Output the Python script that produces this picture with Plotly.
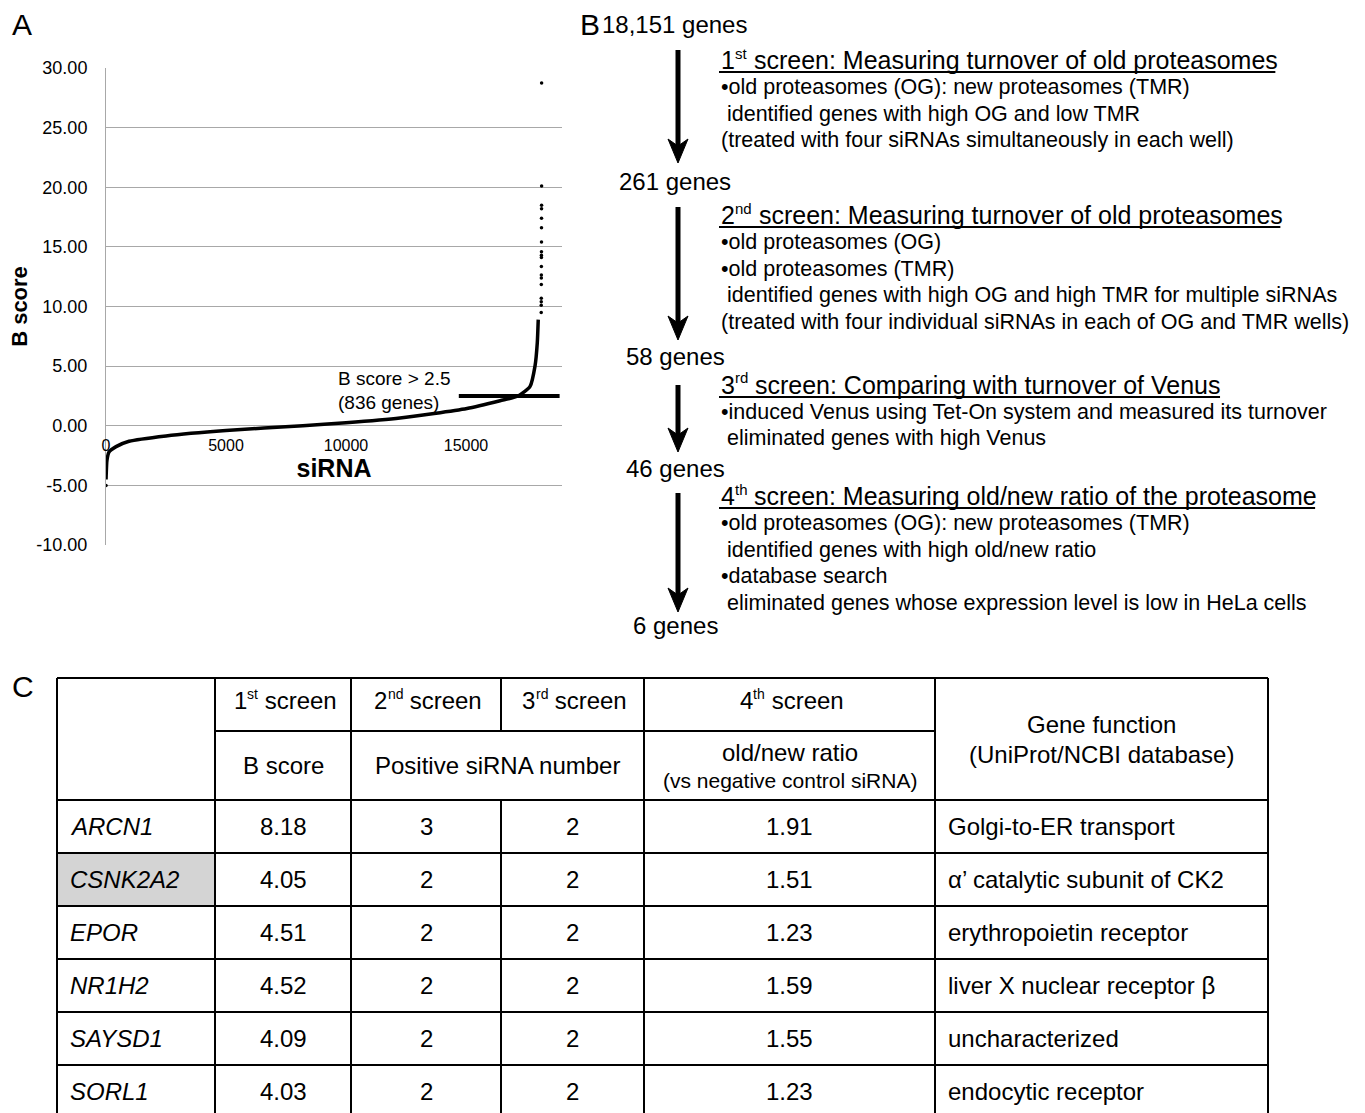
import plotly.graph_objects as go

W, H = 1365, 1113
FONT = "Liberation Sans, Arial, Helvetica, sans-serif"

# ---------------- Panel A data ----------------
curve_rank = [2, 5, 40, 125, 420, 960, 2500, 5000, 8200, 10000, 12250, 15040,
              16420, 17170, 17670, 17875, 17970, 18010]
curve_bscore = [-4.5, -4.3, -2.9, -2.2, -1.75, -1.3, -0.85, -0.4, 0.0, 0.25, 0.65, 1.45,
                2.1, 2.5, 3.3, 5.0, 6.95, 8.9]
outlier_rank = [1, 18134, 18135, 18136, 18137, 18138, 18139, 18140, 18141, 18142, 18143,
                18144, 18145, 18146, 18147, 18148, 18149, 18150, 18151]
outlier_bscore = [-5.0, 9.5, 10.1, 10.4, 10.7, 11.85, 12.4, 12.65, 13.35, 14.1, 14.3,
                  14.6, 15.4, 16.6, 17.4, 18.2, 18.5, 20.1, 28.75]
threshold = 2.5
threshold_span = [14700, 18900]
x_ticks = [0, 5000, 10000, 15000]
y_ticks = [-10, -5, 0, 5, 10, 15, 20, 25, 30]
threshold_label = ["B score > 2.5", "(836 genes)"]

# ---------------- Panel B data ----------------
gene_counts = ["18,151 genes", "261 genes", "58 genes", "46 genes", "6 genes"]
screen_num = ["1", "2", "3", "4"]
screen_sup = ["st", "nd", "rd", "th"]
screen_titles = [
    " screen: Measuring turnover of old proteasomes",
    " screen: Measuring turnover of old proteasomes",
    " screen: Comparing with turnover of Venus",
    " screen: Measuring old/new ratio of the proteasome",
]
screen_lines = [
    ["•old proteasomes (OG): new proteasomes (TMR)",
     " identified genes with high OG and low TMR",
     "(treated with four siRNAs simultaneously in each well)"],
    ["•old proteasomes (OG)",
     "•old proteasomes (TMR)",
     " identified genes with high OG and high TMR for multiple siRNAs",
     "(treated with four individual siRNAs in each of OG and TMR wells)"],
    ["•induced Venus using Tet-On system and measured its turnover",
     " eliminated genes with high Venus"],
    ["•old proteasomes (OG): new proteasomes (TMR)",
     " identified genes with high old/new ratio",
     "•database search",
     " eliminated genes whose expression level is low in HeLa cells"],
]

# ---------------- Panel C data ----------------
genes = ["ARCN1", "CSNK2A2", "EPOR", "NR1H2", "SAYSD1", "SORL1"]
b_scores = ["8.18", "4.05", "4.51", "4.52", "4.09", "4.03"]
pos_sirna_2nd = [3, 2, 2, 2, 2, 2]
pos_sirna_3rd = [2, 2, 2, 2, 2, 2]
old_new_ratio = ["1.91", "1.51", "1.23", "1.59", "1.55", "1.23"]
gene_function = ["Golgi-to-ER transport", "α’ catalytic subunit of CK2",
                 "erythropoietin receptor", "liver X nuclear receptor β",
                 "uncharacterized", "endocytic receptor"]
highlight_gene = "CSNK2A2"

# Arial / Liberation Sans advance widths (1/1000 em) for placing superscripts
_AW = {" ": 278, ":": 278, "/": 278, "a": 556, "b": 556, "c": 500, "d": 556, "e": 556,
       "f": 278, "g": 556, "h": 556, "i": 222, "l": 222, "m": 833, "n": 556, "o": 556,
       "p": 556, "r": 333, "s": 500, "t": 278, "u": 556, "v": 500, "w": 722, "C": 722,
       "M": 833, "V": 667}


def tw(text, size):
    return sum(_AW.get(c, 556) for c in text) * size / 1000.0


def px(x):
    return x / W


def py(y):
    return 1 - y / H


fig = go.Figure()

# ---------------- Panel A ----------------
fig.add_trace(go.Scatter(x=curve_rank, y=curve_bscore, mode="lines",
                         line=dict(color="black", width=3.5, shape="spline", smoothing=0.6),
                         hoverinfo="skip"))
fig.add_trace(go.Scatter(x=outlier_rank, y=outlier_bscore, mode="markers",
                         marker=dict(color="black", size=3.5), hoverinfo="skip"))
fig.add_trace(go.Scatter(x=threshold_span, y=[threshold, threshold], mode="lines",
                         line=dict(color="black", width=4), hoverinfo="skip"))

ya0, ya1 = py(545), py(68)
fig.update_layout(
    xaxis=dict(domain=[px(106), px(562)], range=[0, 19000], anchor="free",
               position=ya0 + (0 - (-10)) / 40 * (ya1 - ya0),
               tickvals=x_ticks, ticktext=[str(v) for v in x_ticks],
               showgrid=False, zeroline=False, showline=False, ticks="",
               ticklabelstandoff=8,
               tickfont=dict(family=FONT, size=16, color="black"),
               title=dict(text="<b>siRNA</b>", font=dict(family=FONT, size=25, color="black"),
                          standoff=0),
               automargin=False),
    yaxis=dict(domain=[ya0, ya1], range=[-10, 30], tickvals=y_ticks,
               ticktext=[f"{v:.2f}" for v in y_ticks],
               showgrid=True, gridcolor="#a8a8a8", gridwidth=1,
               zeroline=False, showline=True, linecolor="#a8a8a8", linewidth=1,
               ticks="", ticklabelstandoff=14,
               tickfont=dict(family=FONT, size=18, color="black"),
               title=dict(text="<b>B score</b>", font=dict(family=FONT, size=22, color="black"),
                          standoff=2),
               automargin=False),
)

ann = []
shapes = []


def text(x, y, t, size, anchor="left", **kw):
    ann.append(dict(x=px(x), y=py(y), xref="paper", yref="paper", text=t, showarrow=False,
                    xanchor=anchor, yanchor="middle",
                    font=dict(family=FONT, size=size, color="black"), **kw))


for i, t in enumerate(threshold_label):
    ann.append(dict(x=9600, y=[3.94, 1.93][i], xref="x", yref="y", text=t,
                    showarrow=False, xanchor="left", yanchor="middle",
                    font=dict(family=FONT, size=19, color="black")))

# panel letters
for letter, (lx, ly) in zip(["A", "B", "C"], [(10, 24), (578, 25), (10, 686)]):
    text(lx, ly, letter, 30)

# ---------------- Panel B ----------------
count_pos = [(600, 25), (617, 181), (624, 357), (624, 468), (631, 625)]
for t, (cx, cy) in zip(gene_counts, count_pos):
    text(cx, cy, t, 24)

TS, SS = 25, 15
title_y = [60, 215, 385, 496]
for num, sup, t, ty, lines in zip(screen_num, screen_sup, screen_titles, title_y, screen_lines):
    x0 = 719
    text(x0, ty, num, TS)
    xs = x0 + tw(num, TS)
    text(xs, ty - 7, sup, SS)
    xr = xs + tw(sup, SS)
    text(xr, ty, t, TS)
    ue = xr + tw(t, TS)
    shapes.append(dict(type="line", xref="paper", yref="paper", x0=px(x0), x1=px(ue),
                       y0=py(ty + 12), y1=py(ty + 12), line=dict(color="black", width=2)))
    for k, line in enumerate(lines):
        text(719, ty + 27 + 26.5 * k, line, 21.5)

# flow arrows (shaft + barbed head)
arrows = [(50, 163), (207, 340), (385, 452), (493, 612)]
ax_ = 678
for tail, head in arrows:
    shapes.append(dict(type="line", xref="paper", yref="paper", x0=px(ax_), x1=px(ax_),
                       y0=py(tail), y1=py(head - 12), line=dict(color="black", width=5)))
    path = (f"M {px(ax_ - 10)} {py(head - 24)} L {px(ax_)} {py(head)} "
            f"L {px(ax_ + 10)} {py(head - 24)} L {px(ax_)} {py(head - 17)} Z")
    shapes.append(dict(type="path", xref="paper", yref="paper", path=path,
                       fillcolor="black", line=dict(color="black", width=1)))

# ---------------- Panel C (table) ----------------
col_x = [57, 215, 351, 501, 644, 935, 1268]
row_y = [678, 731, 800, 853, 906, 959, 1012, 1065, 1118]
lw = 2


def hline(y, x0, x1):
    shapes.append(dict(type="line", xref="paper", yref="paper", x0=px(x0), x1=px(x1),
                       y0=py(y), y1=py(y), line=dict(color="black", width=lw)))


def vline(x, y0, y1):
    shapes.append(dict(type="line", xref="paper", yref="paper", x0=px(x), x1=px(x),
                       y0=py(y0), y1=py(y1), line=dict(color="black", width=lw)))


hi = genes.index(highlight_gene)
shapes.append(dict(type="rect", xref="paper", yref="paper", x0=px(col_x[0]), x1=px(col_x[1]),
                   y0=py(row_y[2 + hi]), y1=py(row_y[3 + hi]),
                   fillcolor="#d4d4d4", line=dict(width=0), layer="below"))

hline(row_y[0], col_x[0], col_x[-1])
hline(row_y[1], col_x[1], col_x[5])
for y in row_y[2:]:
    hline(y, col_x[0], col_x[-1])
for x in [col_x[0], col_x[1], col_x[2], col_x[4], col_x[5], col_x[6]]:
    vline(x, row_y[0], row_y[-1])
vline(col_x[3], row_y[0], row_y[1])
vline(col_x[3], row_y[2], row_y[-1])

TF, TSUP = 24, 14
for k in range(4):
    cx = (col_x[1 + k] + col_x[2 + k]) / 2
    total = tw(screen_num[k], TF) + tw(screen_sup[k], TSUP) + tw(" screen", TF)
    x0 = cx - total / 2
    text(x0, 700, screen_num[k], TF)
    xs = x0 + tw(screen_num[k], TF)
    text(xs, 694, screen_sup[k], TSUP)
    text(xs + tw(screen_sup[k], TSUP), 700, " screen", TF)

gf_cx = (col_x[5] + col_x[6]) / 2
text(gf_cx, 724, "Gene function", TF, "center")
text(gf_cx, 755, "(UniProt/NCBI database)", TF, "center")
text((col_x[1] + col_x[2]) / 2, 765, "B score", TF, "center")
text((col_x[2] + col_x[4]) / 2, 765, "Positive siRNA number", TF, "center")
text((col_x[4] + col_x[5]) / 2, 752, "old/new ratio", TF, "center")
text((col_x[4] + col_x[5]) / 2, 780, "(vs negative control siRNA)", 21, "center")

for i in range(len(genes)):
    cy = (row_y[2 + i] + row_y[3 + i]) / 2
    text(col_x[0] + 11, cy, "<i>" + genes[i] + "</i>", TF)
    vals = [b_scores[i], str(pos_sirna_2nd[i]), str(pos_sirna_3rd[i]), old_new_ratio[i]]
    for k, v in enumerate(vals):
        text((col_x[1 + k] + col_x[2 + k]) / 2, cy, v, TF, "center")
    text(col_x[5] + 11, cy, gene_function[i], TF)

fig.update_layout(width=W, height=H, margin=dict(l=0, r=0, t=0, b=0),
                  plot_bgcolor="white", paper_bgcolor="white", showlegend=False,
                  annotations=ann, shapes=shapes, font=dict(family=FONT, color="black"))

fig.write_html("out.html", config={"displayModeBar": False},
               post_script="document.body.style.margin='0';document.body.style.overflow='hidden';")
